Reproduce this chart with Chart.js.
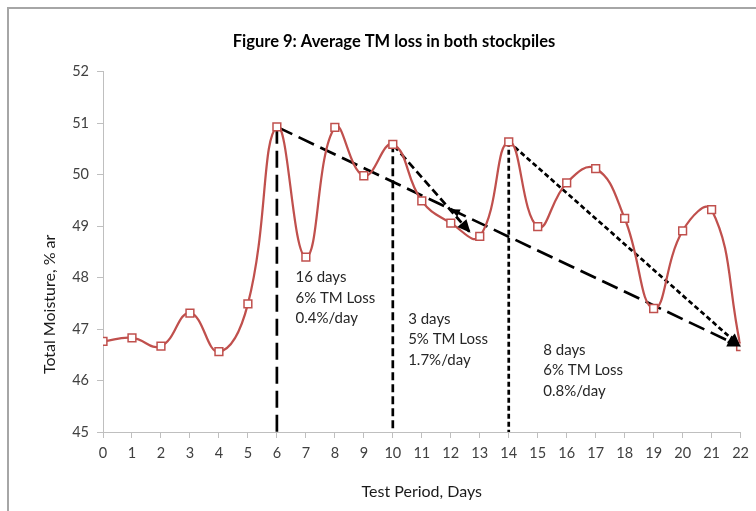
<!DOCTYPE html>
<html>
<head>
<meta charset="utf-8">
<script src="https://cdn.jsdelivr.net/npm/chart.js@4.4.1/dist/chart.umd.min.js"></script>
<style>
  html, body { margin: 0; padding: 0; background: #ffffff; overflow: hidden; }
  #wrap { position: absolute; left: 0; top: 0; width: 756px; height: 511px; }
  #frame { position: absolute; left: 7px; top: 7px; width: 900px; height: 700px;
           border-left: 2px solid #a6a6a6; border-top: 2px solid #a6a6a6; }
  canvas { position: absolute; left: 0; top: 0; }
</style>
</head>
<body>
<div id="wrap">
  <div id="frame"></div>
  <canvas id="chart" width="756" height="511"></canvas>
</div>
<script>
// ---------------- data ----------------
const days = [0, 1, 2, 3, 4, 5, 6, 7, 8, 9, 10, 11, 12, 13, 14, 15, 16, 17, 18, 19, 20, 21, 22];
const moisture = [46.76, 46.83, 46.67, 47.31, 46.56, 47.49, 50.93, 48.40, 50.92, 49.98, 50.59, 49.49,
                  49.06, 48.80, 50.64, 48.99, 49.84, 50.12, 49.15, 47.40, 48.91, 49.32, 46.66];
const yTickValues = [45, 46, 47, 48, 49, 50, 51, 52];
const xTickValues = days;

// guide lines (data coordinates): vertical drops and trend arrows
const guideStartDay = [6, 6, 10, 10, 14, 14];
const guideEndDay   = [6, 22, 10, 12.68, 14, 22];
const guideEndTM    = [45, 46.66, 45, 48.87, 45, 46.66];
const guideStyle    = ['long', 'long', 'medium', 'medium', 'short', 'short'];
const guideArrow    = [false, true, false, true, false, true];

// small reverse arrowhead sitting on the long trend line
const extraArrowDay = [12.0];
const extraArrowTM  = [49.33];

// annotation texts
const noteLines = [
  ['16 days', '6% TM Loss', '0.4%/day'],
  ['3 days', '5% TM Loss', '1.7%/day'],
  ['8 days', '6% TM Loss', '0.8%/day']
];
const noteDay = [6.64, 10.53, 15.19];
const noteTM  = [48.01, 47.20, 46.60];

const chartTitle = 'Figure 9: Average TM loss in both stockpiles';
const xTitle = 'Test Period, Days';
const yTitle = 'Total Moisture, % ar';

// ---------------- styles ----------------
const FONT = 'Lato, "Open Sans", "Liberation Sans", sans-serif';
const dashes = { long: [17, 7], medium: [8, 4], short: [5, 3] };
const RED = '#C0504D';
const AXIS = '#bfbfbf';

const guideDatasets = guideStartDay.map((d, i) => ({
  label: 'guide' + i,
  data: [{ x: d, y: moisture[days.indexOf(d)] }, { x: guideEndDay[i], y: guideEndTM[i] }],
  borderColor: '#000000',
  borderWidth: 2.7,
  borderDash: dashes[guideStyle[i]],
  pointRadius: 0,
  tension: 0,
  fill: false,
  order: 2
}));

function arrowHead(ctx, tx, ty, fx, fy, len, half) {
  const a = Math.atan2(ty - fy, tx - fx);
  ctx.save();
  ctx.translate(tx, ty);
  ctx.rotate(a);
  ctx.beginPath();
  ctx.moveTo(0, 0);
  ctx.lineTo(-len, -half);
  ctx.lineTo(-len, half);
  ctx.closePath();
  ctx.fillStyle = '#000';
  ctx.fill();
  ctx.restore();
}

const annotate = {
  id: 'annotate',
  afterDatasetsDraw(chart) {
    const { ctx, scales: { x, y } } = chart;
    // arrowheads
    guideStartDay.forEach((d, i) => {
      if (!guideArrow[i]) return;
      const fx = x.getPixelForValue(d), fy = y.getPixelForValue(moisture[days.indexOf(d)]);
      const tx = x.getPixelForValue(guideEndDay[i]), ty = y.getPixelForValue(guideEndTM[i]);
      arrowHead(ctx, tx, ty, fx, fy, 13, 6);
    });
    extraArrowDay.forEach((d, i) => {
      const tx = x.getPixelForValue(d), ty = y.getPixelForValue(extraArrowTM[i]);
      const fx = x.getPixelForValue(guideEndDay[1]), fy = y.getPixelForValue(guideEndTM[1]);
      arrowHead(ctx, tx, ty, fx, fy, 9, 4);
    });
    // notes
    ctx.save();
    ctx.font = '15px ' + FONT;
    ctx.fillStyle = '#262626';
    ctx.textAlign = 'left';
    ctx.textBaseline = 'middle';
    noteLines.forEach((lines, i) => {
      const px = x.getPixelForValue(noteDay[i]);
      const py = y.getPixelForValue(noteTM[i]);
      lines.forEach((t, k) => ctx.fillText(t, px, py + k * 20.6));
    });
    ctx.restore();
    // y axis title (placed as in the reference, below the plot centre)
    ctx.save();
    ctx.font = '16px ' + FONT;
    ctx.fillStyle = '#1a1a1a';
    ctx.textAlign = 'center';
    ctx.textBaseline = 'middle';
    ctx.translate(x.left - 53, y.getPixelForValue(47.48));
    ctx.rotate(-Math.PI / 2);
    ctx.fillText(yTitle, 0, 0);
    ctx.restore();
  }
};

new Chart(document.getElementById('chart'), {
  type: 'line',
  data: {
    datasets: [
      {
        label: 'Average TM',
        data: days.map((d, i) => ({ x: d, y: moisture[i] })),
        borderColor: RED,
        borderWidth: 2.25,
        tension: 0.45,
        pointStyle: 'rect',
        pointRadius: 5.5,
        pointBorderWidth: 1.5,
        pointBorderColor: RED,
        pointBackgroundColor: '#ffffff',
        fill: false,
        order: 1
      },
      ...guideDatasets
    ]
  },
  options: {
    responsive: false,
    animation: false,
    devicePixelRatio: 1,
    layout: { padding: { left: 46, right: 14, top: 0, bottom: 0 } },
    plugins: {
      legend: { display: false },
      tooltip: { enabled: false },
      title: {
        display: true,
        text: chartTitle,
        color: '#000000',
        font: { family: FONT, size: 16.5, weight: 'bold', lineHeight: 1.2 },
        padding: { top: 32, bottom: 20 }
      }
    },
    scales: {
      x: {
        type: 'linear',
        min: 0, max: 22,
        afterBuildTicks(s) { s.ticks = xTickValues.map(v => ({ value: v })); },
        afterFit(s) { s.height = 79; },
        border: { color: AXIS, width: 1 },
        grid: { drawOnChartArea: false, tickLength: 6, color: AXIS },
        ticks: { color: '#404040', font: { family: FONT, size: 14.5 }, padding: 7, maxRotation: 0, autoSkip: false },
        title: { display: true, text: xTitle, color: '#1a1a1a', font: { family: FONT, size: 16 }, padding: { top: 0, bottom: 10 } }
      },
      y: {
        type: 'linear',
        min: 45, max: 52,
        afterBuildTicks(s) { s.ticks = yTickValues.map(v => ({ value: v })); },
        afterFit(s) { s.width = 57; },
        border: { color: AXIS, width: 1 },
        grid: { drawOnChartArea: false, tickLength: 6, color: AXIS },
        ticks: { color: '#404040', font: { family: FONT, size: 14.5 }, padding: 8 },
        title: { display: false }
      }
    }
  },
  plugins: [annotate]
});
</script>
</body>
</html>
